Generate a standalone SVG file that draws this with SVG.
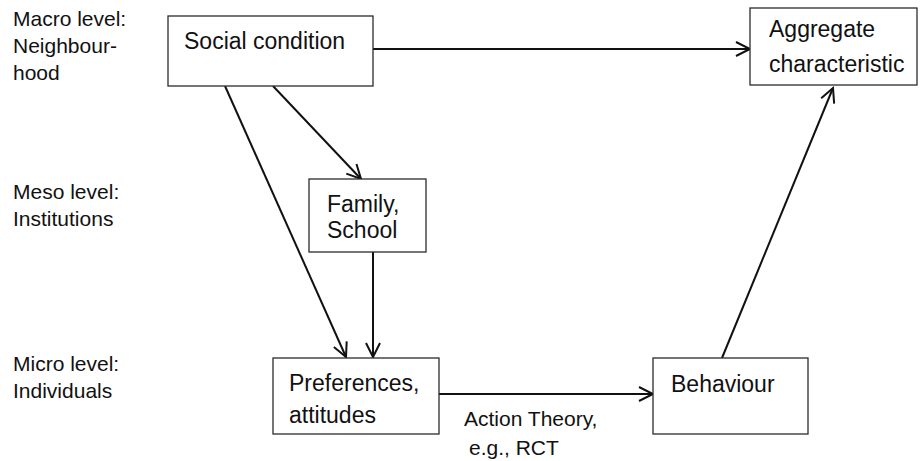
<svg xmlns="http://www.w3.org/2000/svg" width="920" height="461" viewBox="0 0 920 461">
<style>
.box{fill:#fff;stroke:#2b2b2b;stroke-width:1.3}
.t{font-family:"Liberation Sans",Arial,sans-serif;font-size:23px;fill:#111}
.l{font-family:"Liberation Sans",Arial,sans-serif;font-size:21px;fill:#111}
.c{fill:none;stroke:#111;stroke-width:2}
</style>
<defs>
<marker id="ah" markerUnits="userSpaceOnUse" markerWidth="18" markerHeight="18" viewBox="0 0 18 18" refX="15" refY="9" orient="auto">
<path d="M1,2 L15,9 L1,16" fill="none" stroke="#111" stroke-width="2"/>
</marker>
</defs>
<rect width="920" height="461" fill="#fff"/>
<g id="levels">
<text class="l" x="13" y="26">Macro level:</text>
<text class="l" x="13" y="53">Neighbour-</text>
<text class="l" x="13" y="80">hood</text>
<text class="l" x="13" y="199">Meso level:</text>
<text class="l" x="13" y="226">Institutions</text>
<text class="l" x="13" y="371">Micro level:</text>
<text class="l" x="13" y="398">Individuals</text>
</g>
<g id="connectors">
<line class="c" x1="373" y1="49" x2="750" y2="49" marker-end="url(#ah)"/>
<line class="c" x1="273" y1="86" x2="361" y2="179" marker-end="url(#ah)"/>
<line class="c" x1="225" y1="86" x2="346" y2="357" marker-end="url(#ah)"/>
<line class="c" x1="373" y1="252" x2="373" y2="357" marker-end="url(#ah)"/>
<line class="c" x1="439" y1="394" x2="653" y2="394" marker-end="url(#ah)"/>
<line class="c" x1="722" y1="358" x2="833" y2="88" marker-end="url(#ah)"/>
<text class="l" x="464" y="426">Action Theory,</text>
<text class="l" x="469" y="455">e.g., RCT</text>
</g>
<g id="social">
<rect class="box" x="168" y="16" width="205" height="70"/>
<text class="t" x="184" y="49">Social condition</text>
</g>
<g id="aggregate">
<rect class="box" x="750" y="8" width="167" height="77"/>
<text class="t" x="769" y="37">Aggregate</text>
<text class="t" x="769" y="72">characteristic</text>
</g>
<g id="family">
<rect class="box" x="309" y="179" width="117" height="73"/>
<text class="t" x="327" y="212">Family,</text>
<text class="t" x="327" y="238">School</text>
</g>
<g id="preferences">
<rect class="box" x="273" y="358" width="166" height="76"/>
<text class="t" x="289" y="391">Preferences,</text>
<text class="t" x="289" y="423">attitudes</text>
</g>
<g id="behaviour">
<rect class="box" x="653" y="358" width="155" height="76"/>
<text class="t" x="671" y="392">Behaviour</text>
</g>
</svg>
